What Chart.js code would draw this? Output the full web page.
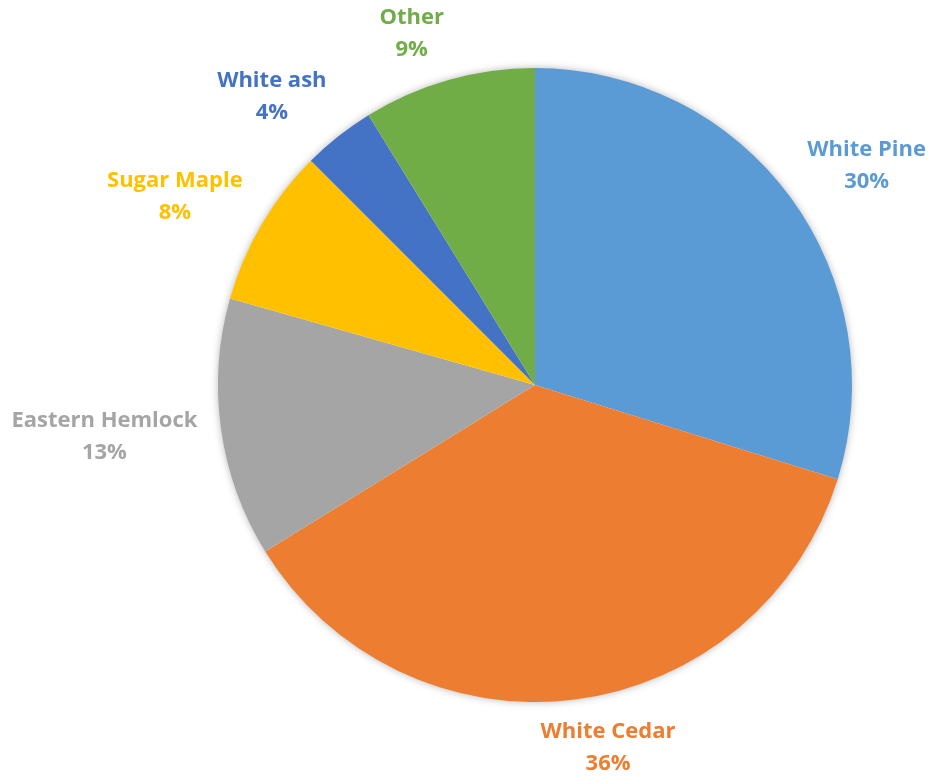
<!DOCTYPE html>
<html>
<head>
<meta charset="utf-8">
<script src="https://cdn.jsdelivr.net/npm/chart.js@4"></script>
<style>
  html, body { margin: 0; padding: 0; background: #fff; }
  #wrap { width: 938px; height: 777px; }
</style>
</head>
<body>
<div id="wrap"><canvas id="treeChart"></canvas></div>
<script>
const species = ['White Pine', 'White Cedar', 'Eastern Hemlock', 'Sugar Maple', 'White ash', 'Other'];
const shares = [29.8, 36.4, 13.2, 8.1, 3.7, 8.8];
const sliceColors = ['#5B9BD5', '#ED7D31', '#A5A5A5', '#FFC000', '#4472C4', '#70AD47'];

// soft shadow behind the pie, like the office default
const pieShadow = {
    id: 'pieShadow',
    beforeDatasetsDraw(chart) {
        const arc = chart.getDatasetMeta(0).data[0];
        if (!arc) return;
        const ctx = chart.ctx;
        ctx.save();
        ctx.shadowColor = 'rgba(0,0,0,0.35)';
        ctx.shadowBlur = 9;
        ctx.fillStyle = '#fff';
        ctx.beginPath();
        ctx.arc(arc.x, arc.y, arc.outerRadius - 1, 0, Math.PI * 2);
        ctx.fill();
        ctx.restore();
    }
};

const clamp1 = v => Math.max(-1, Math.min(1, v));

// category + percent labels outside the slices ("outside end" style)
const outsideLabels = {
    id: 'outsideLabels',
    afterDatasetsDraw(chart) {
        const ctx = chart.ctx;
        const total = shares.reduce((a, b) => a + b, 0);
        const lineH = 32;
        ctx.save();
        ctx.font = 'bold 22px "Open Sans"';
        ctx.textAlign = 'center';
        ctx.textBaseline = 'middle';
        chart.getDatasetMeta(0).data.forEach((arc, i) => {
            const mid = (arc.startAngle + arc.endAngle) / 2;
            const lines = [species[i], Math.round(shares[i] / total * 100) + '%'];
            const w = Math.max(...lines.map(t => ctx.measureText(t).width));
            const h = lineH * lines.length;
            const c = Math.cos(mid), s = Math.sin(mid);
            const R = arc.outerRadius + 16 + 8 * c * c;
            // anchor point just outside the rim, box pushed away from it
            const x = arc.x + c * R + (w / 2) * clamp1(3.7 * c);
            const y = arc.y + s * R + (h / 2) * clamp1(s);
            ctx.fillStyle = sliceColors[i];
            lines.forEach((t, k) => {
                ctx.fillText(t, x, y + (k - (lines.length - 1) / 2) * lineH);
            });
        });
        ctx.restore();
    }
};

const ctxTrees = document.getElementById('treeChart').getContext('2d');
new Chart(ctxTrees, {
    type: 'pie',
    data: {
        labels: species,
        datasets: [{
            data: shares,
            backgroundColor: sliceColors,
            borderWidth: 0
        }]
    },
    options: {
        responsive: true,
        maintainAspectRatio: false,
        animation: false,
        layout: {
            padding: { left: 218, right: 86, top: 68, bottom: 75 }
        },
        plugins: {
            legend: { display: false },
            tooltip: { enabled: false }
        }
    },
    plugins: [pieShadow, outsideLabels]
});
</script>
</body>
</html>
